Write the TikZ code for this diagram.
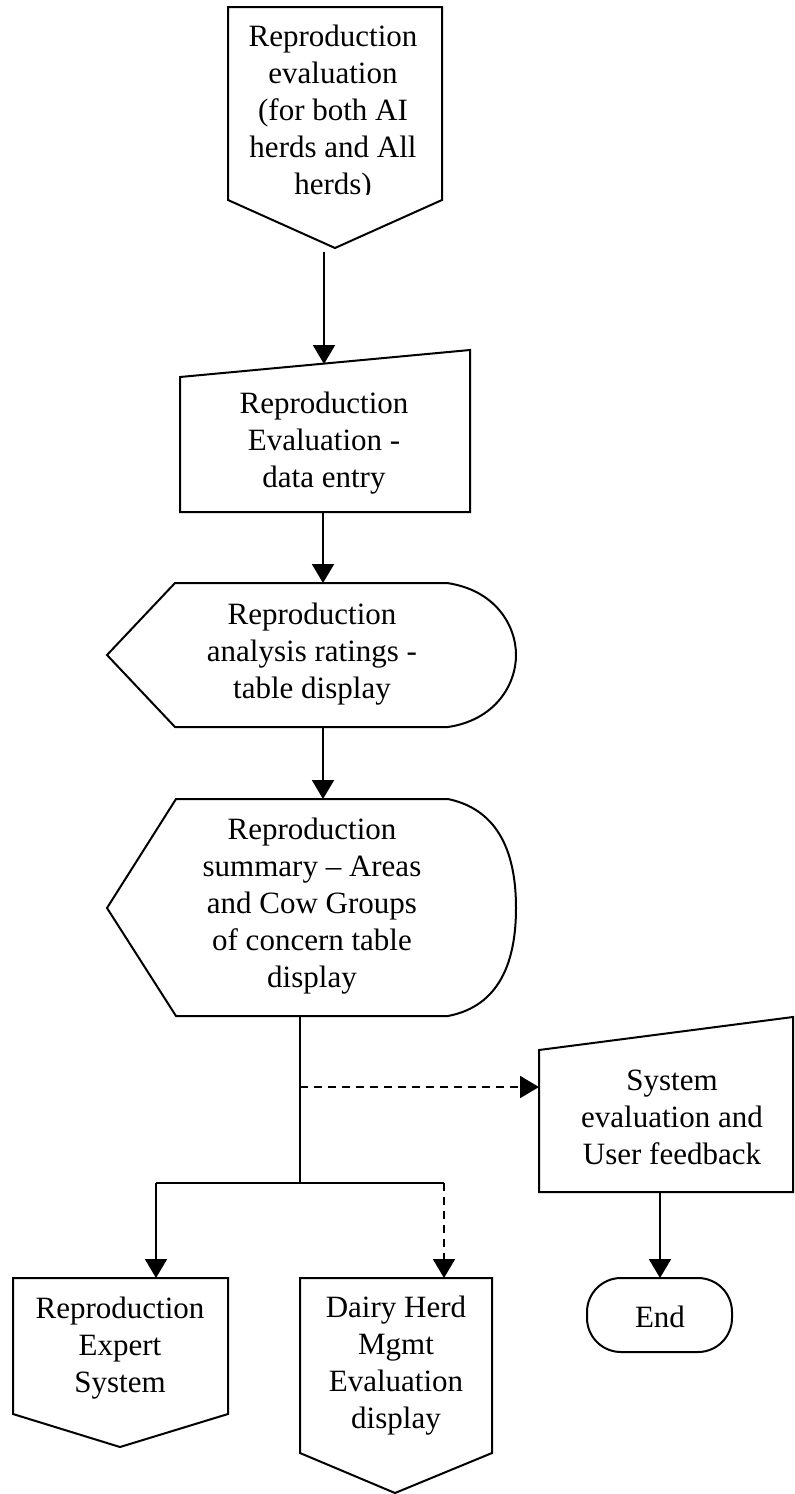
\documentclass[tikz,border=0pt]{standalone}
\usepackage{fontspec}
\setmainfont{Liberation Serif}
\usetikzlibrary{arrows.meta}
\begin{document}
\begin{tikzpicture}[x=0.5pt,y=-0.5pt,
    shape line/.style={draw,line width=1pt,line join=miter},
    lbl/.style={align=center,inner sep=0pt,font=\fontsize{15.5}{18.5}\selectfont},
    flow/.style={line width=1pt,-{Triangle[length=9.5pt,width=11pt]}},
    maybe/.style={dash pattern=on 4pt off 3pt}]
      \useasboundingbox (0,0) rectangle (794,1494);
      % outlines
      \draw[shape line] (228,7) -- (442,7) -- (442,200) -- (335,248) -- (228,200) -- cycle;
      \draw[shape line] (180,377) -- (470,350) -- (470,512) -- (180,512) -- cycle;
      \draw[shape line] (107,655) -- (175,583) -- (447,583)
        .. controls (495,590) and (516,625) .. (516,655)
        .. controls (516,685) and (495,720) .. (448,727) -- (175,727) -- cycle;
      \draw[shape line] (107,908) -- (176,799) -- (448,799)
        .. controls (500,810) and (516,855) .. (516,908)
        .. controls (516,961) and (500,1006) .. (448,1016) -- (176,1016) -- cycle;
      \draw[shape line] (539,1050) -- (793,1017) -- (793,1192) -- (539,1192) -- cycle;
      \draw[shape line] (13,1278) -- (228,1278) -- (228,1414) -- (120,1447) -- (13,1414) -- cycle;
      \draw[shape line] (300,1278) -- (492,1278) -- (492,1453) -- (395,1493) -- (300,1453) -- cycle;
      \draw[shape line,rounded corners=17pt] (587,1278) rectangle (732,1352);
      % texts
      \begin{scope}
        \clip (228,7) rectangle (442,194);
        \node[lbl] (reproEval) at (333,113) {Reproduction\\evaluation\\(for both AI\\herds and All\\herds)};
      \end{scope}
      \draw
        (324,443) node[lbl] (dataEntry){Reproduction\\Evaluation -\\data entry}
        (312,654) node[lbl] (ratings){Reproduction\\analysis ratings -\\table display}
        (312,906) node[lbl] (summary){Reproduction\\summary -- Areas\\and Cow Groups\\of concern table\\display}
        (672,1117) node[lbl] (sysEval){System\\evaluation and\\User feedback}
        (120,1348) node[lbl] (expert){Reproduction\\Expert\\System}
        (396,1366) node[lbl] (dairy){Dairy Herd\\Mgmt\\Evaluation\\display}
        (660,1317) node[lbl] (finish){End};
      % connector ends
      \coordinate (evalOut) at (324,252);
      \coordinate (entryIn) at (324,364);
      \coordinate (entryOut) at (323,512);
      \coordinate (ratingsIn) at (323,583);
      \coordinate (ratingsOut) at (323,727);
      \coordinate (summaryIn) at (323,799);
      \coordinate (summaryOut) at (300,1016);
      \coordinate (tap) at (300,1087);
      \coordinate (sysIn) at (539,1087);
      \coordinate (split) at (300,1183);
      \coordinate (splitL) at (156,1183);
      \coordinate (splitR) at (444,1183);
      \coordinate (expertIn) at (156,1278);
      \coordinate (dairyIn) at (444,1278);
      \coordinate (sysOut) at (660,1192);
      \coordinate (finishIn) at (660,1278);
      \begin{scope}[flow]
        \draw (evalOut) to (entryIn);
        \draw (entryOut) to (ratingsIn);
        \draw (ratingsOut) to (summaryIn);
        \draw[-] (summaryOut) to (split);
        \draw[-] (splitL) to (splitR);
        \draw (splitL) to (expertIn);
        \draw[maybe] (splitR) to (dairyIn);
        \draw[maybe] (tap) to (sysIn);
        \draw (sysOut) to (finishIn);
      \end{scope}
    \end{tikzpicture}
\end{document}
